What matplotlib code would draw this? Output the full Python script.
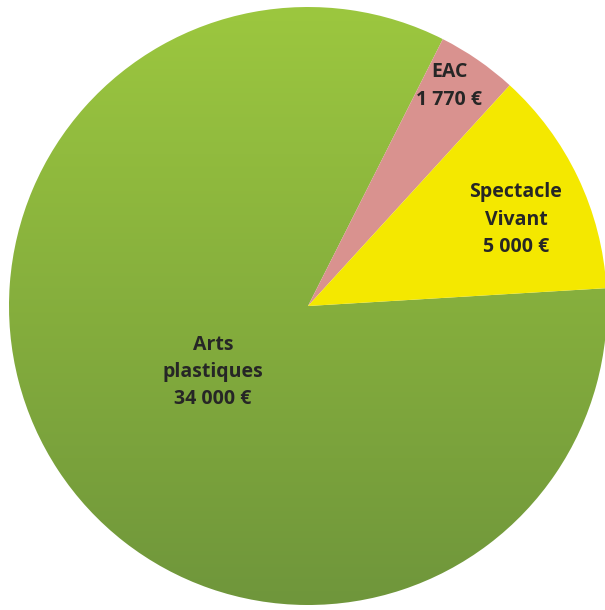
import numpy as np
import matplotlib.pyplot as plt
from matplotlib.colors import LinearSegmentedColormap

# budget by discipline (euros)
categories = ["EAC", "Spectacle\nVivant", "Arts\nplastiques"]
amounts = [1770, 5000, 34000]
value_labels = ["1 770 €", "5 000 €", "34 000 €"]
colors = ["#d9928f", "#f4e800", "#8bb23e"]

fig = plt.figure(figsize=(6.05, 6.10), dpi=100)
ax = fig.add_axes([0, 0, 1, 1])

cx, cy, R = 308, 304, 299
wedges, _ = ax.pie(amounts, colors=colors, startangle=63.2, counterclock=False,
                   center=(cx, cy), radius=R, frame=True,
                   wedgeprops=dict(linewidth=0))

# vertical gradient on the big green slice
green = wedges[2]
green.set_facecolor("none")
grad = LinearSegmentedColormap.from_list("g", ["#6f963b", "#9cc73f"])
img = ax.imshow(np.linspace(0, 1, 256).reshape(-1, 1), cmap=grad, aspect="auto",
                extent=(cx - R, cx + R, cy - R, cy + R), origin="lower", zorder=0.5)
img.set_clip_path(green)

# label positions (pixel coords, y up)
label_pos = [(449, 610 - 86), (516, 610 - 220), (213, 610 - 372)]
for name, val, (x, y) in zip(categories, value_labels, label_pos):
    ax.text(x, y, name + "\n" + val, ha="center", va="center", fontsize=14,
            fontweight="bold", family="Open Sans", color="#262626", linespacing=1.5,
            zorder=3)

ax.set_xlim(0, 605)
ax.set_ylim(0, 610)
ax.set_aspect("equal")
ax.axis("off")

fig.savefig("out.png", dpi=100)
plt.close(fig)
